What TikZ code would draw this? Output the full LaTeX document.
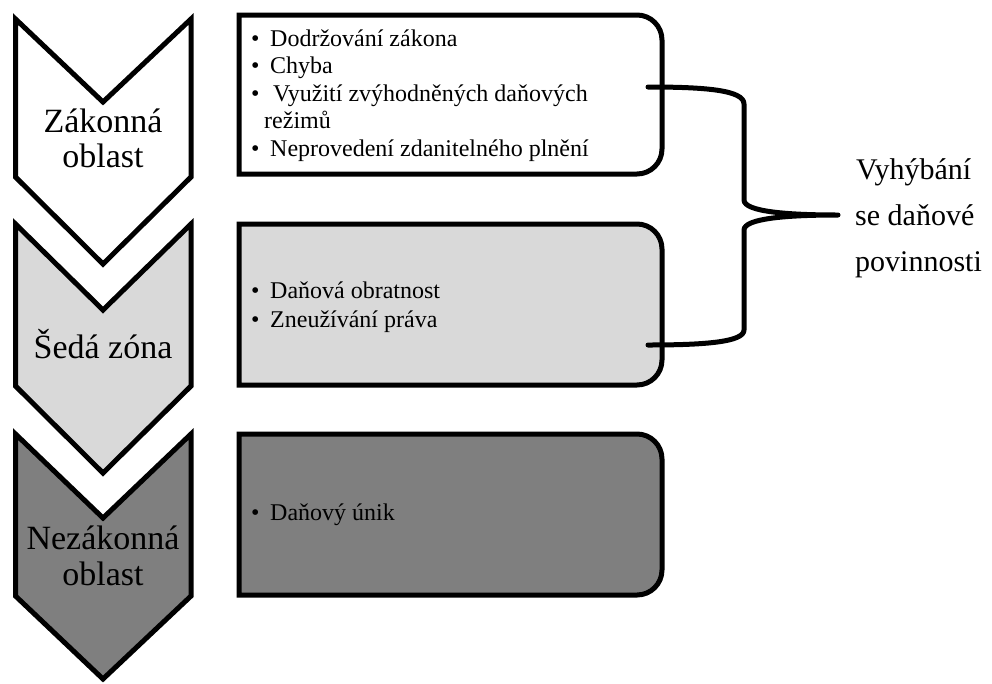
\documentclass[tikz,border=0pt]{standalone}
\usepackage{fontspec}
\setmainfont{Liberation Serif}
\definecolor{greyzone}{HTML}{D9D9D9}
\definecolor{darkzone}{HTML}{7F7F7F}
\newcommand{\bul}{\makebox[19pt][l]{\textbullet}}
\begin{document}
\begin{tikzpicture}[x=1pt,y=-1pt,
  outline/.style={draw=black,line width=5pt,line join=miter},
  zonelabel/.style={font=\fontsize{34}{36}\selectfont,anchor=base,inner sep=0pt},
  itemtext/.style={font=\fontsize{24}{28}\selectfont,anchor=base west,inner sep=0pt},
  bracetext/.style={font=\fontsize{30}{34}\selectfont,anchor=base west,inner sep=0pt},
  bracepath/.style={draw=black,line width=5pt,line cap=round,line join=round}]
\useasboundingbox (0,0) rectangle (992,683);

% chevrons on the left
\draw[outline,fill=white]
  (15.5,19) -- (103,102) -- (191,19) -- (191,177) -- (103,264) -- (15.5,177) -- cycle;
\draw[outline,fill=greyzone]
  (15.5,224) -- (103,310) -- (191,224) -- (191,386) -- (103,473) -- (15.5,386) -- cycle;
\draw[outline,fill=darkzone]
  (15.5,434) -- (103,518) -- (191,434) -- (191,596) -- (103,679) -- (15.5,596) -- cycle;

\node[zonelabel] (z1a) at (103,132) {Zákonná};
\node[zonelabel] (z1b) at (103,167) {oblast};
\node[zonelabel] (z2) at (103,358) {Šedá zóna};
\node[zonelabel] (z3a) at (103,549) {Nezákonná};
\node[zonelabel] (z3b) at (103,585) {oblast};

% panels, rounded on the right side only
\draw[outline,fill=white]
  (239,15) -- (637,15) .. controls (650.8,15) and (662,26.2) .. (662,40)
  -- (662,149) .. controls (662,162.8) and (650.8,174) .. (637,174) -- (239,174) -- cycle;
\draw[outline,fill=greyzone]
  (239,224) -- (637,224) .. controls (650.8,224) and (662,235.2) .. (662,249)
  -- (662,360) .. controls (662,373.8) and (650.8,385) .. (637,385) -- (239,385) -- cycle;
\draw[outline,fill=darkzone]
  (239,434) -- (637,434) .. controls (650.8,434) and (662,445.2) .. (662,459)
  -- (662,570) .. controls (662,583.8) and (650.8,595) .. (637,595) -- (239,595) -- cycle;

% items of the first panel
\node[itemtext] (i1) at (251,46) {\bul Dodržování zákona};
\node[itemtext] (i2) at (251,73.5) {\bul Chyba};
\node[itemtext] (i3) at (251,101) {\bul\hspace{3pt}Využití zvýhodněných daňových};
\node[itemtext] (i3b) at (264,128.5) {režimů};
\node[itemtext] (i4) at (251,156) {\bul Neprovedení zdanitelného plnění};

% items of the second panel
\node[itemtext] (j1) at (251,298) {\bul Daňová obratnost};
\node[itemtext] (j2) at (251,327) {\bul Zneužívání práva};

% item of the third panel
\node[itemtext] (k1) at (251,520) {\bul Daňový únik};

% brace joining the first two panels
\coordinate (armtop) at (648,87);
\coordinate (armbot) at (648,345);
\coordinate (tip) at (838,215);
\draw[bracepath]
  (armtop) .. controls (705,87) and (744,90) .. (744,104)
  -- (744,200) .. controls (744,212) and (790,215) .. (tip)
  .. controls (790,215) and (744,218) .. (744,230)
  -- (744,330) .. controls (744,342) and (705,345) .. (armbot);

\node[bracetext] (b1) at (856,179) {Vyhýbání};
\node[bracetext] (b2) at (855,225) {se daňové};
\node[bracetext] (b3) at (855,271) {povinnosti};
\end{tikzpicture}
\end{document}
